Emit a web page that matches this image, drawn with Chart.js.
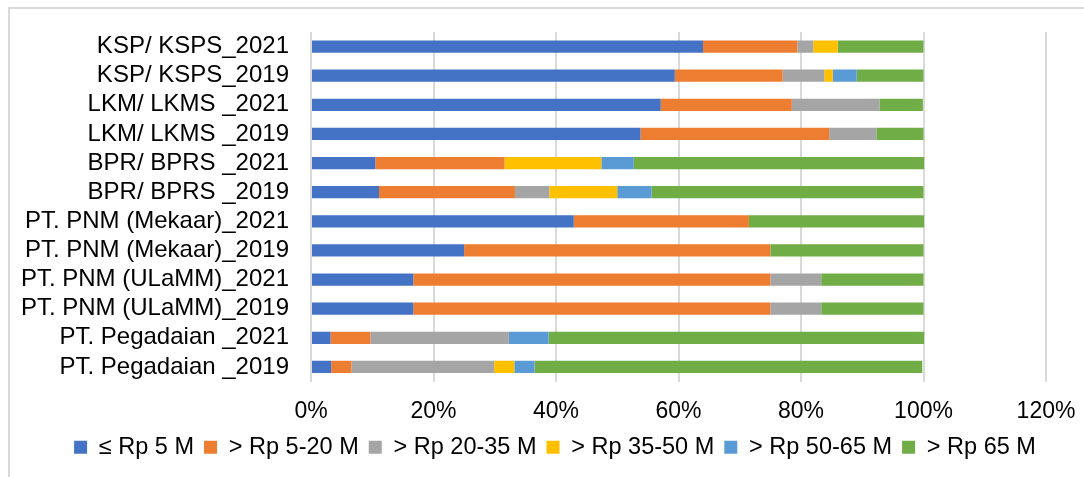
<!DOCTYPE HTML>
<html>
<head>
  <script src="https://cdn.jsdelivr.net/npm/chart.js"></script>
  <style>
    body { margin: 0; background: #fff; }
    #wrap { position: relative; width: 1084px; height: 477px; overflow: hidden; }
    #frame { position: absolute; left: 8px; top: 7px; width: 1200px; height: 600px;
             border-left: 2px solid #d9d9d9; border-top: 2px solid #d9d9d9; }
    canvas { position: absolute; left: 0; top: 0; }
  </style>
</head>
<body>
  <div id="wrap">
    <div id="frame"></div>
    <canvas id="barChart" width="1084" height="477"></canvas>
  </div>

  <script>
    // categories, top to bottom
    var categories = [
      'KSP/ KSPS_2021', 'KSP/ KSPS_2019',
      'LKM/ LKMS _2021', 'LKM/ LKMS _2019',
      'BPR/ BPRS _2021', 'BPR/ BPRS _2019',
      'PT. PNM (Mekaar)_2021', 'PT. PNM (Mekaar)_2019',
      'PT. PNM (ULaMM)_2021', 'PT. PNM (ULaMM)_2019',
      'PT. Pegadaian _2021', 'PT. Pegadaian _2019'
    ];

    // share of loans per size class, in percent
    var upTo5    = [64.0, 59.4, 57.1, 53.8, 10.5, 11.1, 42.9, 25.0, 16.7, 16.7,  3.2,  3.3];
    var from5    = [15.4, 17.6, 21.4, 30.8, 21.1, 22.2, 28.6, 50.0, 58.3, 58.3,  6.5,  3.3];
    var from20   = [ 2.6,  6.8, 14.3,  7.7,  0,    5.6,  0,    0,    8.3,  8.3, 22.6, 23.3];
    var from35   = [ 4.0,  1.4,  0,    0,   15.8, 11.1,  0,    0,    0,    0,    0,    3.3];
    var from50   = [ 0,    3.9,  0,    0,    5.3,  5.6,  0,    0,    0,    0,    6.5,  3.3];
    var above65  = [14.0, 10.9,  7.1,  7.7, 47.4, 44.4, 28.6, 25.0, 16.7, 16.7, 61.3, 63.3];

    var seriesNames = ['\u2264 Rp 5 M', '> Rp 5-20 M', '> Rp 20-35 M', '> Rp 35-50 M', '> Rp 50-65 M', '> Rp 65 M'];
    var seriesColors = ['#4472C4', '#ED7D31', '#A5A5A5', '#FFC000', '#5B9BD5', '#70AD47'];
    var seriesValues = [upTo5, from5, from20, from35, from50, above65];

    var xTicks = [0, 20, 40, 60, 80, 100, 120];

    Chart.defaults.font.family = '"Liberation Sans", Arial, sans-serif';
    Chart.defaults.color = '#000';

    var datasets = seriesNames.map(function (name, i) {
      return {
        label: name,
        data: seriesValues[i],
        backgroundColor: seriesColors[i],
        borderWidth: 0,
        barPercentage: 0.42,
        categoryPercentage: 1
      };
    });

    // legend sits a bit higher and right of where Chart.js puts it
    var legendShift = {
      id: 'legendShift',
      afterLayout: function (chart) {
        var lg = chart.legend;
        lg.left = 50;
        lg.right = 1060;
        lg.top -= 16;
        lg.bottom = 477;
      }
    };

    var ctx = document.getElementById('barChart').getContext('2d');
    var chart = new Chart(ctx, {
      type: 'bar',
      data: { labels: categories, datasets: datasets },
      plugins: [legendShift],
      options: {
        indexAxis: 'y',
        responsive: false,
        animation: false,
        layout: { padding: { left: 18, right: 38, top: 32, bottom: -8 } },
        plugins: {
          tooltip: { enabled: false },
          legend: {
            position: 'bottom',
            labels: {
              boxWidth: 13,
              boxHeight: 13,
              padding: 10,
              font: { size: 23.5 }
            }
          }
        },
        scales: {
          x: {
            stacked: true,
            min: 0,
            max: 120,
            afterBuildTicks: function (scale) {
              scale.ticks = xTicks.map(function (v) { return { value: v }; });
            },
            afterFit: function (scale) {
              // let the layout padding alone decide the plot edges
              scale.paddingLeft = 0;
              scale.paddingRight = 0;
            },
            ticks: {
              padding: 16.2,
              font: { size: 23 },
              callback: function (v) { return v + '%'; }
            },
            grid: { color: '#d9d9d9', lineWidth: 2, drawTicks: false },
            border: { display: false }
          },
          y: {
            stacked: true,
            afterFit: function (scale) {
              scale.width = 293;
              scale.paddingTop = 0;
              scale.paddingBottom = 0;
            },
            ticks: {
              padding: 22,
              autoSkip: false,
              font: { size: 24 }
            },
            grid: { display: false, drawTicks: false },
            border: { display: false }
          }
        }
      }
    });
  </script>
</body>
</html>
